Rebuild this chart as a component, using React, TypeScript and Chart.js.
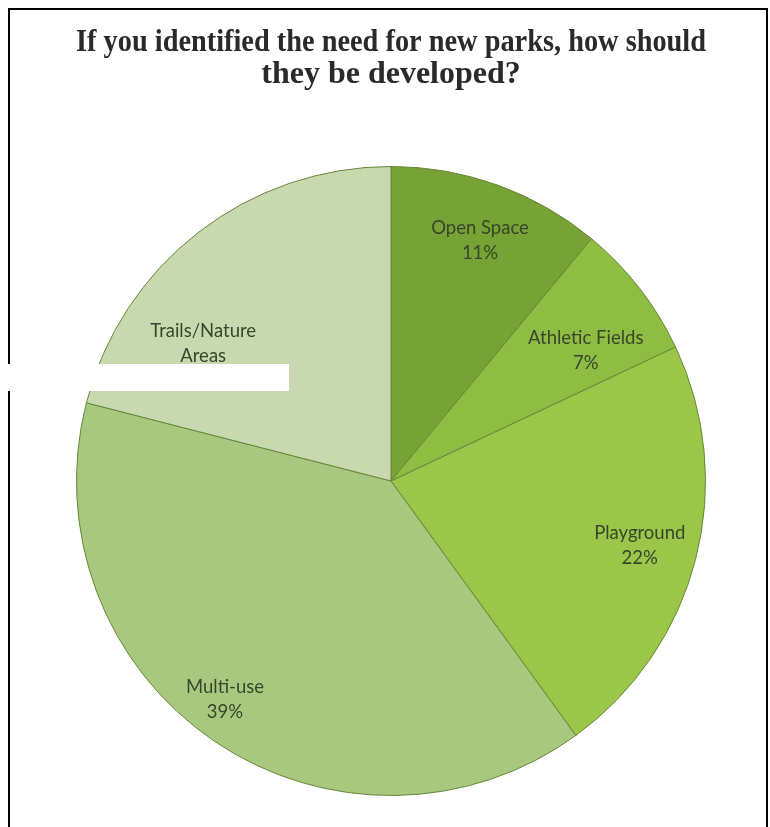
import React, { useEffect, useRef } from "react";
import { Chart, registerables } from "chart.js";

Chart.register(...registerables);

const titleLines = ["If you identified the need for new parks, how should", "they be developed?"];
const categories = ["Open Space", "Athletic Fields", "Playground", "Multi-use", "Trails/Nature Areas"];
const labelLines = [["Open Space"], ["Athletic Fields"], ["Playground"], ["Multi-use"], ["Trails/Nature", "Areas"]];
const percentages = [11, 7, 22, 39, 21];
const sliceColors = ["#77a236", "#8fbc43", "#9cc64a", "#a9c87f", "#c8d9b0"];
const labelRadius = [0.816, 0.746, 0.817, 0.873, 0.717];
const labelAngleShift = [0.5, 3.9, 0.1, 3, -18.6];

const labelPlugin = {
  id: "sliceLabels",
  afterDatasetsDraw(chart: any) {
    const ctx = chart.ctx;
    const meta = chart.getDatasetMeta(0);
    ctx.save();
    ctx.font = "18.5px Lato, 'Open Sans', sans-serif";
    ctx.fillStyle = "#36462a";
    ctx.textAlign = "center";
    ctx.textBaseline = "middle";
    meta.data.forEach((arc: any, i: number) => {
      const p = arc.getProps(["x", "y", "startAngle", "endAngle", "outerRadius"], true);
      const mid = (p.startAngle + p.endAngle) / 2 + (labelAngleShift[i] * Math.PI) / 180;
      const r = p.outerRadius * labelRadius[i];
      const cx = p.x + Math.cos(mid) * r;
      const cy = p.y + Math.sin(mid) * r;
      const lines = [...labelLines[i], `${percentages[i]}%`];
      const lh = 25;
      const y0 = cy - ((lines.length - 1) * lh) / 2;
      lines.forEach((t, k) => ctx.fillText(t, cx, y0 + k * lh));
    });
    ctx.restore();
  },
};

export default function App() {
  const ref = useRef<HTMLCanvasElement | null>(null);
  useEffect(() => {
    document.body.style.overflow = "hidden";
    if (!ref.current) return;
    const chart = new Chart(ref.current, {
      type: "pie",
      data: {
        labels: categories,
        datasets: [
          {
            data: percentages,
            backgroundColor: sliceColors,
            borderColor: "#66883a",
            borderWidth: 1,
          },
        ],
      },
      options: {
        animation: false,
        responsive: true,
        maintainAspectRatio: false,
        layout: { padding: { left: 66, right: 60, top: 0, bottom: 31 } },
        plugins: {
          legend: { display: false },
          tooltip: { enabled: false },
          title: {
            display: true,
            text: titleLines,
            color: "#2a2a2a",
            font: { family: "'Liberation Serif', 'Times New Roman', serif", size: 32, weight: "bold", lineHeight: 1.0 },
            padding: { top: 17, bottom: 75 },
          },
        },
      },
      plugins: [labelPlugin],
    });
    return () => chart.destroy();
  }, []);
  return (
    <>
      <div
        style={{
          position: "fixed",
          left: 8,
          top: 8,
          border: "2px solid #000",
          width: 756,
          height: 830,
          boxSizing: "content-box",
          background: "#fff",
        }}
      >
        <div style={{ position: "relative", width: 756, height: 817 }}>
          <canvas ref={ref} />
        </div>
      </div>
      <div style={{ position: "fixed", left: 0, top: 364, width: 289, height: 27, background: "#fff" }} />
    </>
  );
}
